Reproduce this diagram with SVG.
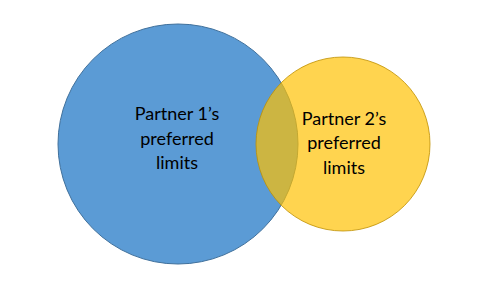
<svg xmlns="http://www.w3.org/2000/svg" width="499" height="292" viewBox="0 0 499 292">
  <style>
    .lbl { font-family: Lato, "Open Sans", "Liberation Sans", sans-serif; font-size: 18px; fill: #000; text-anchor: middle; }
  </style>
  <rect width="499" height="292" fill="#ffffff"/>
  <g id="partner1">
    <circle cx="178" cy="144" r="120" fill="#5B9BD5" stroke="#41719C" stroke-width="1"/>
    <text class="lbl" x="177" y="120">Partner 1’s</text>
    <text class="lbl" x="177" y="145">preferred</text>
    <text class="lbl" x="177" y="169">limits</text>
  </g>
  <g id="partner2">
    <circle cx="343" cy="144" r="87" fill="#FFC000" fill-opacity="0.69" stroke="#BF9000" stroke-opacity="0.8" stroke-width="1"/>
    <text class="lbl" x="344" y="125">Partner 2’s</text>
    <text class="lbl" x="344" y="149">preferred</text>
    <text class="lbl" x="344" y="174">limits</text>
  </g>
  <g id="connectors"/>
</svg>
